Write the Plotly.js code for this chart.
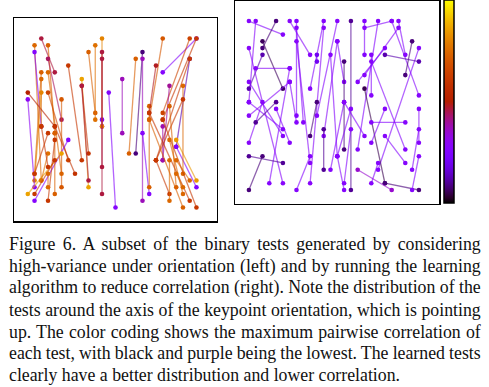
<!DOCTYPE html>
<html><head><meta charset="utf-8">
<script src="https://cdn.plot.ly/plotly-3.0.1.min.js"></script>
<style>html,body{margin:0;padding:0;background:#fff;}#chart{width:489px;height:387px;}</style>
</head><body><div id="chart"></div>
<script>
// ---- Left panel: binary tests (grid column/row of both points) and max correlation
const leftC1 = [2,1,3,1,3,2,3,2,0,2,3,0,5,4,6,5,4,3,4,3,4,3,2, 6,8,8,8,9,10,11,11,11,11,12,14,16,17,17,17,18,20,19,20,25,24,24,24,22,22,21,20,23,23,18,18,20,19,21,21,21,22,22];
const leftR1 = [0,1,1,2,3,5,5,6,8,8,8,9,9,13,15,17,14,14,15,17,18,20,13, 4,6,7,7,2,1,12,0,2,3,8,6,3,2,3,14,10,0,4,5,0,0,3,3,16,15,7,13,7,9,11,12,12,18,10,15,18,18,20];
const leftC2 = [4,2,4,2,5,1,5,2,4,1,6,1,5,7,1,0,4,1,3,2,1,3,3, 8,9,9,9,10,10,11,11,11,11,13,14,15,16,17,18,18,18,18,25,20,20,22,19,25,25,20,20,23,19,24,23,25,21,22,23,21,24,23];
const leftR2 = [5,21,14,13,12,20,20,13,13,21,18,22,22,20,24,23,23,20,24,21,23,22,19, 18,22,17,21,11,12,13,13,23,19,25,14,17,17,24,23,22,12,11,0,12,11,16,18,22,21,18,18,20,18,24,25,25,23,22,23,24,21,22];
const leftCorr = [.46,.74,.72,.27,.44,.72,.74,.74,.50,.80,.64,.30,.70,.58,.27,.86,.72,.60,.60,.76,.60,.74,.60, .60,.86,.58,.46,.72,.76,.27,.80,.46,.46,.27,.37,.72,.08,.37,.27,.72,.70,.48,.27,.60,.64,.12,.60,.25,.84,.40,.38,.74,.60,.60,.72,.60,.60,.72,.74,.74,.74,.74];

// ---- Right panel: learned tests
const rightC1 = [0,1,4,2,2,1,6,6,7,7,7,11,11,13,13,10,12,0,0,0,0,2,4,4,6,0,2,7,9,11,12, 13,15,14,17,17,19,21,22,24,25,20,20,18,18,17,20,16,14,15,15,18,20,20,25,25,18,14,22,24];
const rightR1 = [0,0,0,3,5,7,7,0,0,1,3,0,1,0,3,5,5,4,12,14,9,12,12,13,9,20,20,25,17,16,22, 3,0,6,0,1,0,0,0,3,4,5,4,6,5,10,24,22,12,13,16,15,13,17,13,20,24,25,1,22];
const rightC2 = [5,0,2,5,0,6,3,9,7,8,9,9,9,10,11,10,13,5,5,6,5,0,1,6,7,5,0,9,10,11,14, 14,15,14,17,21,16,25,23,23,19,25,16,23,18,20,25,21,17,13,14,23,18,23,25,24,19,13,17,25];
const rightR2 = [2,12,4,10,10,7,24,5,14,15,21,10,24,14,17,6,20,24,16,9,17,18,15,18,15,21,25,20,12,22,12, 9,25,19,5,0,19,11,5,8,22,6,9,19,11,24,25,25,17,20,24,15,18,21,18,25,21,20,8,16];
const rightCorr = [.27,.28,.08,.06,.12,.28,.27,.28,.26,.27,.28,.27,.28,.27,.28,.20,.27,.28,.27,.28,.27,.28,.10,.27,.27,.10,.08,.27,.08,.10,.27, .27,.10,.08,.26,.27,.27,.27,.27,.08,.27,.12,.27,.27,.27,.05,.08,.35,.27,.27,.27,.27,.27,.27,.27,.27,.27,.27,.27,.27];

// ---- Caption
const captionLines = [
  "Figure 6. A subset of the binary tests generated by considering",
  "high-variance under orientation (left) and by running the learning",
  "algorithm to reduce correlation (right). Note the distribution of the",
  "tests around the axis of the keypoint orientation, which is pointing",
  "up. The color coding shows the maximum pairwise correlation of",
  "each test, with black and purple being the lowest. The learned tests",
  "clearly have a better distribution and lower correlation."
];

// gnuplot colormap
function gnuplot(v){
  const r = Math.sqrt(v), g = Math.pow(v,3), b = Math.max(0, Math.sin(2*Math.PI*v));
  return [Math.round(255*r), Math.round(255*g), Math.round(255*b)];
}
function rgb(v, a){ const c = gnuplot(v); return a===undefined ? `rgb(${c[0]},${c[1]},${c[2]})` : `rgba(${c[0]},${c[1]},${c[2]},${a})`; }
const gnuplotScale = [];
for (let i=0;i<=40;i++){ gnuplotScale.push([i/40, rgb(i/40)]); }

const traces = [];
function addSegs(c1,r1,c2,r2,corr,xa,ya){
  const n = Math.min(c1.length,r1.length,c2.length,r2.length,corr.length);
  for (let i=0;i<n;i++){
    traces.push({type:'scatter', mode:'lines+markers', xaxis:xa, yaxis:ya,
      x:[c1[i],c2[i]], y:[r1[i],r2[i]],
      line:{color:rgb(corr[i],0.62), width:1.3},
      marker:{color:rgb(corr[i]), size:4.6},
      hoverinfo:'skip', showlegend:false});
  }
}
addSegs(leftC1,leftR1,leftC2,leftR2,leftCorr,'x','y');
addSegs(rightC1,rightR1,rightC2,rightR2,rightCorr,'x2','y2');

// colorbar carrier (point lies outside the visible range)
traces.push({type:'scatter', mode:'markers', xaxis:'x', yaxis:'y', x:[-20], y:[-20],
  marker:{color:[0.5], cmin:0, cmax:1, colorscale:gnuplotScale, showscale:true,
    colorbar:{x:444.3/489, xanchor:'left', y:1, yanchor:'top', xref:'paper', yref:'paper',
      thicknessmode:'pixels', thickness:10, lenmode:'pixels', len:203,
      xpad:0, ypad:0, outlinewidth:1.5, outlinecolor:'#000', borderwidth:0,
      showticklabels:false, ticks:''}},
  hoverinfo:'skip', showlegend:false});

const W=489, H=387;
const FS = 17.8;
const ax = {showgrid:false, zeroline:false, showticklabels:false, ticks:'', showline:true, mirror:true, linecolor:'#000', linewidth:1.5, fixedrange:true};
const layout = {
  width:W, height:H, margin:{l:0,r:0,t:0,b:0}, paper_bgcolor:'#fff', plot_bgcolor:'#fff',
  showlegend:false, hovermode:false,
  xaxis: Object.assign({}, ax, {domain:[14.3/W, 216.7/W], range:[-2,28], anchor:'y'}),
  yaxis: Object.assign({}, ax, {domain:[1-221/H, 1-18.3/H], range:[27,-3], anchor:'x'}),
  xaxis2: Object.assign({}, ax, {domain:[235.3/W, 439.3/W], range:[-2,28], anchor:'y2'}),
  yaxis2: Object.assign({}, ax, {domain:[1-203.5/H, 1-0.8/H], range:[27,-3], anchor:'x2'}),
  annotations: captionLines.map((t,i)=>({text:t, xref:'paper', yref:'paper', x:7.3/W, xanchor:'left', align:'left',
    y:1-(250+i*21.83-0.32*FS)/H, yanchor:'middle', showarrow:false,
    font:{family:'Liberation Serif, Times New Roman, serif', size:FS, color:'#111'}}))
};

Plotly.newPlot('chart', traces, layout, {staticPlot:true, displayModeBar:false}).then(function(gd){
  const left = 8.3, right = 480;
  captionLines.forEach(function(line,i){
    if (i === captionLines.length-1) return;
    const t = gd.querySelector('g.annotation[data-index="'+i+'"] text.annotation-text');
    if (!t) return;
    const len = t.getComputedTextLength();
    const spaces = line.split(' ').length - 1;
    const ws = (right-left-len)/spaces;
    t.style.wordSpacing = ws + 'px';
  });
});
</script>
</body></html>
